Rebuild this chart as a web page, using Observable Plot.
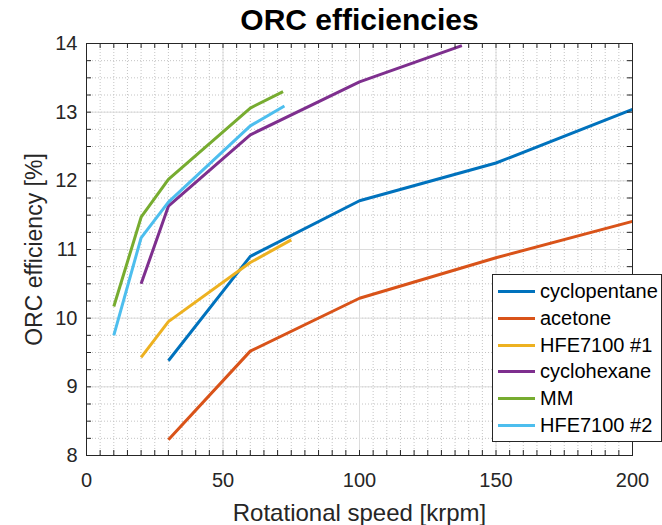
<!DOCTYPE html>
<html>
<head>
<meta charset="utf-8">
<script src="https://cdn.jsdelivr.net/npm/d3@7"></script>
<script src="https://cdn.jsdelivr.net/npm/@observablehq/plot@0.6"></script>
<style>
  body { margin: 0; background: #fff; }
  #chart { position: relative; width: 662px; height: 525px; overflow: hidden;
           font-family: "Liberation Sans", Arial, Helvetica, sans-serif; }
  #chart svg { display: block; }
  .legend { position: absolute; left: 492px; top: 274px; width: 170px; height: 168px;
            box-sizing: border-box; border: 1px solid #262626; background: #fff;
            padding-top: 3.4px; }
  .legend .row { display: flex; align-items: center; height: 26.67px; }
  .legend .swatch { width: 37px; height: 3px; margin-left: 5px; margin-right: 5px; }
  .legend .label { font-size: 20px; color: #000; white-space: nowrap; }
</style>
</head>
<body>
<div id="chart"></div>
<script>
// Working fluids and their line colours
const fluids = ["cyclopentane", "acetone", "HFE7100 #1", "cyclohexane", "MM", "HFE7100 #2"];
const colors = ["#0072BD", "#D95319", "#EDB120", "#7E2F8E", "#77AC30", "#4DBEEE"];

// Rotational speed [krpm] and ORC efficiency [%] per fluid
const cyclopentaneSpeed = [30, 60, 100, 150, 200];
const cyclopentaneEff   = [9.38, 10.90, 11.71, 12.26, 13.04];
const acetoneSpeed      = [30, 60, 100, 150, 200];
const acetoneEff        = [8.23, 9.52, 10.29, 10.88, 11.41];
const hfe1Speed         = [20, 30, 60, 75];
const hfe1Eff           = [9.43, 9.95, 10.81, 11.14];
const cyclohexaneSpeed  = [20, 30, 60, 100, 137.5];
const cyclohexaneEff    = [10.50, 11.63, 12.67, 13.44, 13.97];
const mmSpeed           = [10, 20, 30, 60, 72];
const mmEff             = [10.17, 11.47, 12.02, 13.06, 13.30];
const hfe2Speed         = [10, 20, 30, 60, 72.5];
const hfe2Eff           = [9.75, 11.17, 11.69, 12.80, 13.09];

// Axis ticks
const xTicks = [0, 50, 100, 150, 200];
const yTicks = [8, 9, 10, 11, 12, 13, 14];
const xMinor = d3.range(0, 200.001, 5);
const yMinor = d3.range(8, 14.001, 0.25);

const series = [
  [cyclopentaneSpeed, cyclopentaneEff],
  [acetoneSpeed, acetoneEff],
  [hfe1Speed, hfe1Eff],
  [cyclohexaneSpeed, cyclohexaneEff],
  [mmSpeed, mmEff],
  [hfe2Speed, hfe2Eff]
];
const rows = series.flatMap(([s, e], i) => s.map((v, j) => ({fluid: fluids[i], speed: v, eff: e[j]})));

const W = 662, H = 525, mL = 86, mR = 30, mT = 43, mB = 70;
const plotH = H - mT - mB, plotW = W - mL - mR;
const tickLen = 5;
const axisColor = "#262626";

const chart = Plot.plot({
  width: W, height: H,
  marginLeft: mL, marginRight: mR, marginTop: mT, marginBottom: mB,
  style: {fontFamily: '"Liberation Sans", Arial, Helvetica, sans-serif', background: "white", overflow: "visible"},
  x: {domain: [0, 200]},
  y: {domain: [8, 14]},
  color: {domain: fluids, range: colors},
  marks: [
    // minor grid (dotted) and major grid (solid)
    Plot.gridX(xMinor, {stroke: "#c4c4c4", strokeOpacity: 1, strokeDasharray: "1,2"}),
    Plot.gridY(yMinor, {stroke: "#c4c4c4", strokeOpacity: 1, strokeDasharray: "1,2"}),
    Plot.gridX(xTicks, {stroke: "#dcdcdc", strokeOpacity: 1}),
    Plot.gridY(yTicks, {stroke: "#dcdcdc", strokeOpacity: 1}),
    // efficiency curves
    Plot.line(rows, {x: "speed", y: "eff", z: "fluid", stroke: "fluid", strokeWidth: 3,
                     strokeLinejoin: "round", strokeLinecap: "butt"}),
    // box
    Plot.frame({stroke: axisColor}),
    // inward ticks on all four sides
    Plot.tickX(xMinor, {x: d => d, insetTop: plotH - tickLen, stroke: axisColor}),
    Plot.tickX(xMinor, {x: d => d, insetBottom: plotH - tickLen, stroke: axisColor}),
    Plot.tickY(yMinor, {y: d => d, insetRight: plotW - tickLen, stroke: axisColor}),
    Plot.tickY(yMinor, {y: d => d, insetLeft: plotW - tickLen, stroke: axisColor}),
    // tick labels
    Plot.axisX(xTicks, {anchor: "bottom", tickSize: 0, tickPadding: 17, fontSize: 20, color: axisColor,
                        tickFormat: d => String(d), label: null}),
    Plot.axisY(yTicks, {anchor: "left", tickSize: 0, tickPadding: 9, fontSize: 20, color: axisColor,
                        tickFormat: d => String(d), label: null}),
    // title and axis labels
    Plot.text(["ORC efficiencies"], {text: d => d, frameAnchor: "top", lineAnchor: "top", textAnchor: "middle",
                                     dy: -35, fontSize: 30, fontWeight: "bold", fill: "#000"}),
    Plot.text(["Rotational speed [krpm]"], {text: d => d, frameAnchor: "bottom", lineAnchor: "top", textAnchor: "middle",
                                            dy: 48, fontSize: 24, fill: axisColor}),
    Plot.text(["ORC efficiency [%]"], {text: d => d, frameAnchor: "left", lineAnchor: "top", textAnchor: "middle",
                                       rotate: -90, dx: -61, fontSize: 23, fill: axisColor})
  ]
});

const root = document.getElementById("chart");
root.appendChild(chart);

// legend box
const legend = document.createElement("div");
legend.className = "legend";
fluids.forEach((f, i) => {
  const row = document.createElement("div");
  row.className = "row";
  const sw = document.createElement("span");
  sw.className = "swatch";
  sw.style.background = colors[i];
  const lb = document.createElement("span");
  lb.className = "label";
  lb.textContent = f;
  row.appendChild(sw);
  row.appendChild(lb);
  legend.appendChild(row);
});
root.appendChild(legend);
</script>
</body>
</html>
